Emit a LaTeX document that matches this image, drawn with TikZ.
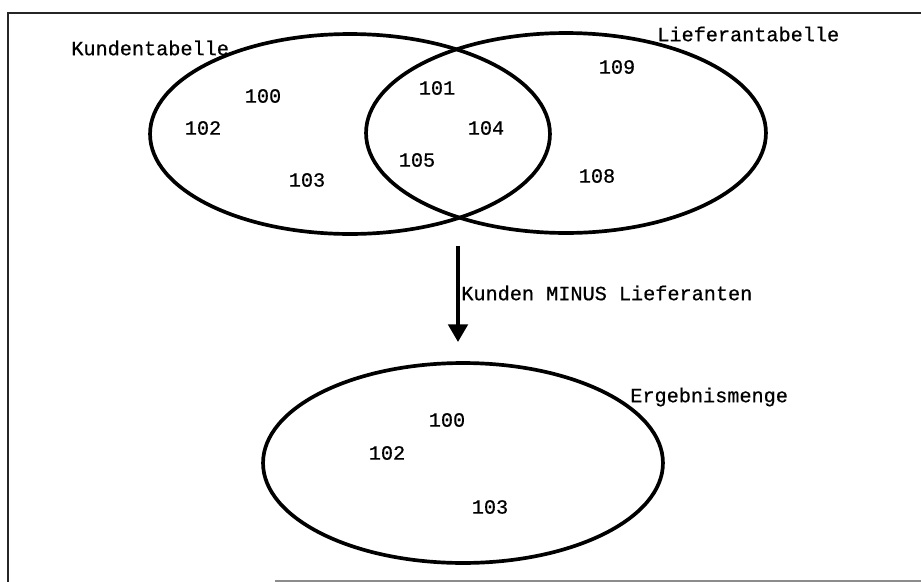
\documentclass[tikz,border=0pt]{standalone}
\usepackage{fontspec}
\newfontfamily\labelfont[FakeBold=0.6]{Liberation Mono}
\usepackage{tikz}
\usetikzlibrary{shapes.geometric, arrows.meta, positioning}
\tikzset{>={Triangle[width=11pt, length=10pt]}}

\begin{document}
\begin{tikzpicture}[
  x=0.02cm, y=-0.02cm,
  setshape/.style={ellipse, draw=black, line width=2.1pt, minimum width=8cm, minimum height=4cm, inner sep=0pt},
  setlabel/.style={font=\labelfont\fontsize{11.5}{13}\selectfont, inner sep=0pt},
  elem/.style={font=\labelfont\fontsize{11.5}{13}\selectfont, inner sep=0pt},
  oparrow/.style={->, line width=2.1pt},
  framestyle/.style={line width=0.9pt, black!85}
]
\useasboundingbox (0,0) rectangle (921,582);

% Frame (left and top edge, faint bottom edge)
\draw[framestyle] (8,582) -- (8,13) -- (921,13);
\draw[line width=0.9pt, black!45] (275,581) -- (921,581);

% Customer and supplier sets
\node[setshape] (kunden) at (350,134) {};
\node[setshape] (lieferant) at (566,133) {};
\node[setlabel, anchor=west] (kundenlbl) at (71,48) {Kundentabelle};
\node[setlabel, anchor=west] (lieferantlbl) at (657,34) {Lieferantabelle};

% Elements of the sets
\node[elem] (k100) at (263,96) {100};
\node[elem] (k102) at (203,128) {102};
\node[elem] (k103) at (307,180) {103};
\node[elem] (k101) at (437,88) {101};
\node[elem] (k105) at (417,160) {105};
\node[elem] (k104) at (486,128) {104};
\node[elem] (l109) at (617,67) {109};
\node[elem] (l108) at (597,176) {108};

% Set operation
\coordinate (optop) at (458,246);
\coordinate (opbot) at (458,342);
\draw[oparrow] (optop) -- (opbot);
\node[setlabel, anchor=west] (oplbl) at (461,293) {Kunden MINUS Lieferanten};

% Result set
\node[setshape] (ergebnis) at (463,463) {};
\node[setlabel, anchor=west] (ergebnislbl) at (630,397) {Ergebnismenge};
\node[elem] (e100) at (447,420) {100};
\node[elem] (e102) at (387,453) {102};
\node[elem] (e103) at (490,507) {103};

\end{tikzpicture}
\end{document}
